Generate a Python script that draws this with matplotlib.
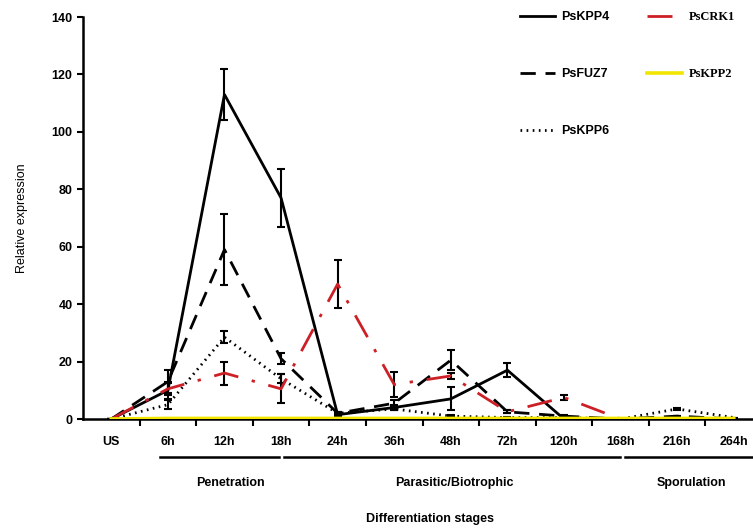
import matplotlib
matplotlib.use("Agg")
import matplotlib.pyplot as plt
import numpy as np

categories = ["US", "6h", "12h", "18h", "24h", "36h", "48h", "72h", "120h", "168h", "216h", "264h"]

kpp4 = [0, 10, 113, 77, 1.5, 4, 7, 17, 0, 0, 0, 0]
kpp4_err = [0, 3, 9, 10, 0.5, 1, 4, 2.5, 0, 0, 0, 0]
fuz7 = [0, 13, 59, 21, 2, 5.5, 20.5, 2.5, 1, 0, 1, 0]
fuz7_err = [0, 4, 12.5, 2, 0.5, 1, 3.5, 0.5, 0.3, 0, 0, 0]
kpp6 = [0, 5, 28.5, 14, 2, 3.5, 1, 0.5, 0.5, 0, 3.5, 0.5]
kpp6_err = [0, 1.5, 2, 1.5, 0.5, 0.5, 0.3, 0.2, 0.2, 0, 0.3, 0]
crk1 = [0, 10.5, 16, 10.5, 47, 12, 15, 2.5, 7.5, 0, 0, 0]
crk1_err = [0, 2, 4, 5, 8.5, 4.5, 1, 0.5, 1, 0, 0, 0]
kpp2 = [0, 0.2, 0.2, 0.2, 0.2, 0.2, 0.2, 0.2, 0.2, 0.2, 0.2, 0.2]

groups = ["Penetration", "Parasitic/Biotrophic", "Sporulation"]
group_spans = [(0.86, 2.96), (3.05, 8.99), (9.08, 11.4)]
group_centers = [2.1, 6.07, 10.26]

plt.rcParams['font.family'] = ['Liberation Sans', 'DejaVu Sans']

fig = plt.figure(figsize=(7.53, 5.29), dpi=100)
ax = fig.add_axes([83/753, 1-419/529, 1-83/753, (419-17)/529])
x = np.arange(len(categories))

ekw = dict(ecolor='black', elinewidth=1.5, capsize=3, capthick=1.5)
ax.plot(x, kpp2, color='#f2e600', lw=2.6, zorder=5, label='PsKPP2')
l4, = ax.plot(x, kpp4, color='black', lw=2.0, label='PsKPP4', zorder=3)
ax.errorbar(x, kpp4, yerr=kpp4_err, fmt='none', **ekw)
lf, = ax.plot(x, fuz7, color='black', lw=2.0, dashes=(5.5, 3.5), label='PsFUZ7', zorder=3)
ax.errorbar(x, fuz7, yerr=fuz7_err, fmt='none', **ekw)
l6, = ax.plot(x, kpp6, color='black', lw=2.0, dashes=(0.6, 1.6), label='PsKPP6', zorder=3)
ax.errorbar(x, kpp6, yerr=kpp6_err, fmt='none', **ekw)
lc, = ax.plot(x, crk1, color='#cc2026', lw=2.0, dashes=(9, 5, 1.2, 5), label='PsCRK1', zorder=3)
ax.errorbar(x, crk1, yerr=crk1_err, fmt='none', **ekw)

ax.set_xlim(-0.5, 11.34)
ax.set_ylim(0, 140)
ax.set_yticks(np.arange(0, 141, 20))
ax.set_xticks(np.arange(0.5, 11.5, 1))
ax.set_xticklabels([])
ax.set_xticks(x, minor=True)
ax.set_xticklabels(categories, minor=True, fontsize=9, fontweight='bold')
ax.tick_params(axis='x', which='minor', length=0, pad=12)
ax.tick_params(axis='x', which='major', length=5, width=1.5, direction='out')
ax.tick_params(axis='y', length=4, width=1.5, direction='out', labelsize=9)
for t in ax.get_yticklabels():
    t.set_fontweight('bold')
for s in ['top', 'right']:
    ax.spines[s].set_visible(False)
for s in ['left', 'bottom']:
    ax.spines[s].set_linewidth(1.8)
ax.set_ylabel("Relative expression", fontsize=9, labelpad=17)

# group brackets
trans = ax.get_xaxis_transform()
for name, (a, b), c in zip(groups, group_spans, group_centers):
    ax.plot([a, b], [-0.095, -0.095], transform=trans, color='black', lw=1.8, clip_on=False)
    ax.text(c, -0.16, name, transform=trans, ha='center', va='center', fontsize=9, fontweight='bold')
fig.text(430/753, 1-519/529, "Differentiation stages", ha='center', va='center', fontsize=9, fontweight='bold')

handles = [l4, lf, l6, lc, ax.lines[0]]
leg = ax.legend(handles, [h.get_label() for h in handles], ncol=2, loc='upper left',
                bbox_to_anchor=(509/753, 1.0), bbox_transform=fig.transFigure,
                frameon=False, labelspacing=3.6, columnspacing=3.0, handlelength=2.8,
                handletextpad=0.5, prop=dict(size=9, weight='bold'))
for t in leg.get_texts():
    if t.get_text() in ('PsCRK1', 'PsKPP2'):
        t.set_fontfamily('Liberation Serif')

fig.savefig("out.png", dpi=100)
